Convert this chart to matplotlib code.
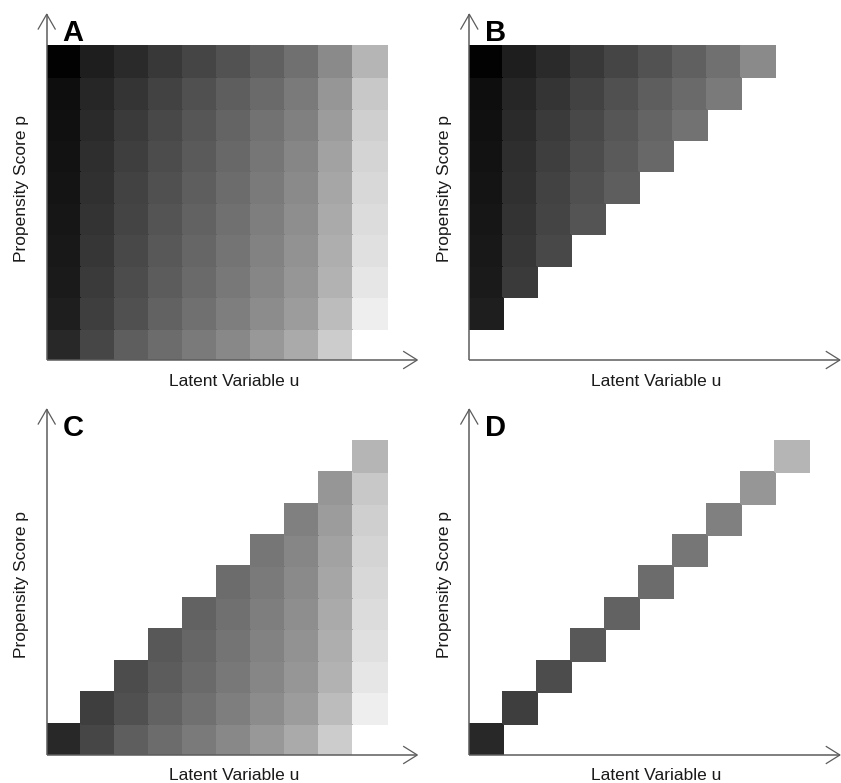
import numpy as np
import matplotlib
matplotlib.use("Agg")
import matplotlib.pyplot as plt

plt.rcParams['font.family'] = ['Liberation Sans', 'DejaVu Sans']

# Grid levels
u_levels = list(range(1, 11))   # latent variable u (columns)
p_levels = list(range(1, 11))   # propensity score p (rows, bottom -> top)

# Gray level (0=black, 255=white) per cell, one list per p row, u = 1..10
gray_p10 = [2, 30, 42, 56, 69, 82, 96, 112, 138, 181]
gray_p9 = [14, 38, 52, 66, 80, 94, 106, 122, 150, 200]
gray_p8 = [16, 42, 58, 72, 86, 100, 114, 128, 156, 207]
gray_p7 = [18, 46, 62, 76, 90, 104, 118, 134, 162, 212]
gray_p6 = [20, 48, 66, 80, 94, 108, 122, 138, 166, 216]
gray_p5 = [22, 51, 68, 84, 98, 112, 126, 142, 170, 220]
gray_p4 = [24, 54, 72, 88, 102, 116, 130, 146, 174, 224]
gray_p3 = [26, 58, 76, 92, 106, 120, 134, 150, 178, 230]
gray_p2 = [30, 62, 80, 98, 112, 126, 140, 156, 188, 238]
gray_p1 = [40, 70, 94, 108, 122, 136, 152, 170, 204, 255]

panel_letters = ['A', 'B', 'C', 'D']
x_label = 'Latent Variable u'
y_label = 'Propensity Score p'

gray = np.array([gray_p1, gray_p2, gray_p3, gray_p4, gray_p5,
                 gray_p6, gray_p7, gray_p8, gray_p9, gray_p10], dtype=float)
U, P = np.meshgrid(u_levels, p_levels)
masks = {
    'A': np.ones_like(U, dtype=bool),
    'B': U < P,
    'C': U >= P,
    'D': U == P,
}

W, H = 841, 783
fig = plt.figure(figsize=(W / 100, H / 100), dpi=100)

cw, ch = 34.0, 31.43
# (left px, bottom px from top)
layout = {'A': (46.7, 360.0), 'B': (469.3, 360.0),
          'C': (46.7, 755.0), 'D': (469.3, 755.0)}
axis_col = '#5c5c5c'

for letter in panel_letters:
    lx, by = layout[letter]
    ax = fig.add_axes([lx / W, (H - by) / H, 11 * cw / W, 11 * ch / H])
    ax.set_xlim(0, 11)
    ax.set_ylim(0, 11)
    ax.axis('off')
    data = np.ma.masked_where(~masks[letter], gray)
    ax.pcolormesh(np.arange(0, 11), np.arange(0, 11), data, cmap='gray',
                  vmin=0, vmax=255, shading='flat', edgecolors='face',
                  linewidth=0.3)
    # axes with open arrow heads
    xt, yt = 10.9, 11.0
    ax.plot([0, xt], [0, 0], color=axis_col, lw=1.1, clip_on=False,
            solid_capstyle='butt')
    ax.plot([0, 0], [0, yt], color=axis_col, lw=1.1, clip_on=False,
            solid_capstyle='butt')
    ax.plot([xt - 0.4, xt, xt - 0.4], [0.27, 0, -0.27], color=axis_col,
            lw=0.9, clip_on=False)
    ax.plot([-0.25, 0, 0.25], [yt - 0.47, yt, yt - 0.47], color=axis_col,
            lw=0.9, clip_on=False)
    # labels
    fig.text((lx + 187) / W, 1 - (by + 21) / H, x_label, ha='center',
             va='center', fontsize=12.5, color='#1a1a1a')
    fig.text((lx - 25) / W, 1 - (by - 171) / H, y_label, ha='center',
             va='center', rotation=90, fontsize=12.5, color='#1a1a1a')
    fig.text((lx + 16) / W, 1 - (by - 319) / H, letter, ha='left',
             va='baseline', fontsize=21, fontweight='bold', color='black')

fig.savefig('out.png', dpi=100)
